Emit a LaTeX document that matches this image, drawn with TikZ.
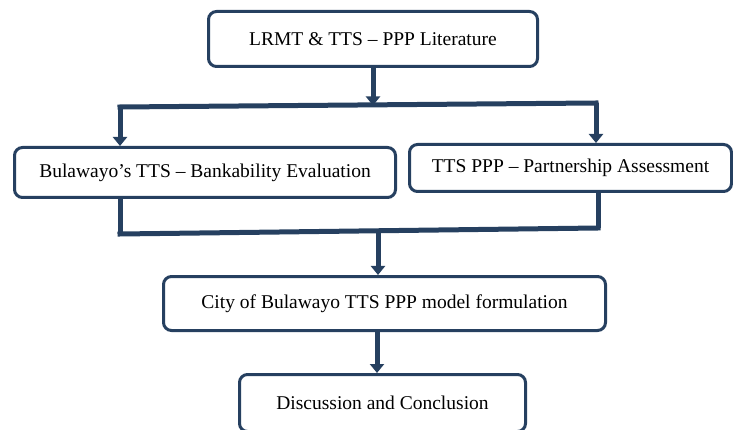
\documentclass[tikz,border=0pt]{standalone}
\usepackage{fontspec}
\setmainfont{Liberation Serif}
\usetikzlibrary{arrows.meta}
\definecolor{navy}{RGB}{38,64,96}
\begin{document}
\begin{tikzpicture}[x=1pt,y=-1pt,
  stepbox/.style={draw=navy,line width=3pt,rounded corners=8pt,fill=white,inner sep=0pt,font=\fontsize{19.5}{22}\selectfont},
  conn/.style={draw=navy,line width=5pt},
  arr/.style={conn,-{Triangle[width=14pt,length=9pt]}}]
\useasboundingbox (0,0) rectangle (733,430);
\node[stepbox,minimum width=329pt,minimum height=55pt] (lit) at (373,39) {LRMT \& TTS -- PPP Literature};
\node[stepbox,minimum width=381pt,minimum height=50pt] (bank) at (205,172.5) {Bulawayo’s TTS -- Bankability Evaluation};
\node[stepbox,minimum width=322pt,minimum height=47pt] (part) at (570.5,168) {TTS PPP -- Partnership Assessment};
\node[stepbox,minimum width=442pt,minimum height=54pt] (model) at (384.5,303.5) {City of Bulawayo TTS PPP model formulation};
\node[stepbox,minimum width=286pt,minimum height=57pt] (disc) at (382.5,403) {Discussion and Conclusion};
\coordinate (s1) at (373,105.5);
\coordinate (sl) at (120,107);
\coordinate (sr) at (596,103);
\coordinate (j1) at (120,234);
\coordinate (jr) at (598,228);
\coordinate (jm) at (378,232);
\draw[arr] (lit.south -| s1) -- (s1);
\draw[conn,line cap=rect] (sl) -- (sr);
\draw[arr] (sl) -- (bank.north -| sl);
\draw[arr] (sr) -- (part.north -| sr);
\draw[conn] (bank.south -| j1) -- (j1);
\draw[conn] (part.south -| jr) -- (jr);
\draw[conn,line cap=rect] (j1) -- (jr);
\draw[arr] (jm) -- (model.north -| jm);
\draw[arr] (model.south -| 377,0) -- (disc.north -| 377,0);
\end{tikzpicture}
\end{document}
